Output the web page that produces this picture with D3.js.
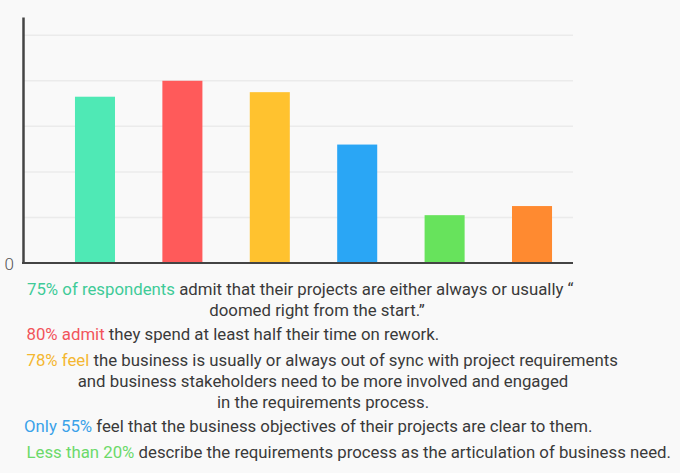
<!DOCTYPE html>
<html lang="en">
<head>
    <meta charset="UTF-8">
    <title>Requirements survey bar chart</title>
    <script src="https://d3js.org/d3.v7.min.js"></script>
    <style>
        html, body {
            margin: 0;
            padding: 0;
            background: #f9f9f9;
        }
        svg text {
            font-family: Roboto, "Noto Sans", sans-serif;
        }
    </style>
</head>
<body>
    <div id="chart"></div>
    <script>
        // Survey values (percent)
        const categories = ["respondents", "admit", "feel", "only", "less", "other"];
        const values = [73, 80, 75, 52, 21, 25];
        const barColors = ["#4fe9b5", "#ff5a5a", "#ffc22f", "#2aa6f5", "#67e35c", "#ff8a30"];
        const gridValues = [20, 40, 60, 80, 100];
        const yTickLabels = ["0"];

        // Caption paragraphs: coloured lead text, rest of the first line, continuation lines
        const leads = ["75% of respondents", "80% admit", "78% feel", "Only 55%", "Less than 20%"];
        const leadColors = ["#3fcb98", "#f2545b", "#f4b731", "#3aa2e9", "#6cd96a"];
        const firstLines = [
            " admit that their projects are either always or usually \u201c",
            " they spend at least half their time on rework.",
            " the business is usually or always out of sync with project requirements",
            " feel that the business objectives of their projects are clear to them.",
            " describe the requirements process as the articulation of business need."
        ];
        const moreLines = [
            ["doomed right from the start.\u201d"],
            [],
            ["and business stakeholders need to be more involved and engaged", "in the requirements process."],
            [],
            []
        ];

        const W = 680, H = 473;
        const plot = {left: 22, right: 573, top: 17, bottom: 263};

        const svg = d3.select("#chart")
            .append("svg")
            .attr("width", W)
            .attr("height", H);

        const x = d3.scaleBand()
            .domain(categories)
            .range([plot.left, 605])
            .paddingInner(0.542)
            .paddingOuter(0.606);

        const y = d3.scaleLinear()
            .domain([0, 108])
            .range([plot.bottom, plot.top]);

        // Gridlines
        svg.append("g")
            .selectAll("line")
            .data(gridValues)
            .join("line")
            .attr("x1", plot.left + 2)
            .attr("x2", plot.right)
            .attr("y1", d => y(d))
            .attr("y2", d => y(d))
            .attr("stroke", "#ebebeb")
            .attr("stroke-width", 1.5);

        // Bars
        svg.append("g")
            .selectAll("rect")
            .data(values)
            .join("rect")
            .attr("x", (d, i) => x(categories[i]))
            .attr("y", d => y(d))
            .attr("width", x.bandwidth())
            .attr("height", d => y(0) - y(d))
            .attr("fill", (d, i) => barColors[i]);

        // Y axis: just the line and a "0"
        const yAxis = svg.append("g")
            .attr("transform", `translate(${plot.left + 1},0)`)
            .call(d3.axisLeft(y).tickValues([0]).tickSize(0).tickFormat((d, i) => yTickLabels[i]).tickPadding(9));
        yAxis.select(".domain")
            .attr("stroke", "#444")
            .attr("stroke-width", 2.5);
        yAxis.selectAll("text")
            .attr("font-size", 17)
            .attr("font-weight", 300)
            .attr("fill", "#555")
            .attr("dy", "0.4em");

        // X axis baseline
        svg.append("line")
            .attr("x1", plot.left)
            .attr("x2", plot.right)
            .attr("y1", y(0))
            .attr("y2", y(0))
            .attr("stroke", "#444")
            .attr("stroke-width", 2);

        // Captions
        const firstX = [27, 26.5, 26.5, 24, 26.5];
        const firstY = [295, 340, 366, 432, 458];
        const contCenter = [317, 0, 323, 0, 0];
        const lineGap = 20.8;

        const captions = svg.append("g")
            .attr("font-size", 16.8)
            .attr("fill", "#3a3a3a");

        leads.forEach((lead, i) => {
            const t = captions.append("text")
                .attr("x", firstX[i])
                .attr("y", firstY[i]);
            t.append("tspan")
                .attr("fill", leadColors[i])
                .text(lead);
            t.append("tspan")
                .text(firstLines[i]);

            moreLines[i].forEach((line, j) => {
                captions.append("text")
                    .attr("x", contCenter[i])
                    .attr("y", firstY[i] + lineGap * (j + 1))
                    .attr("text-anchor", "middle")
                    .text(line);
            });
        });
    </script>
</body>
</html>
